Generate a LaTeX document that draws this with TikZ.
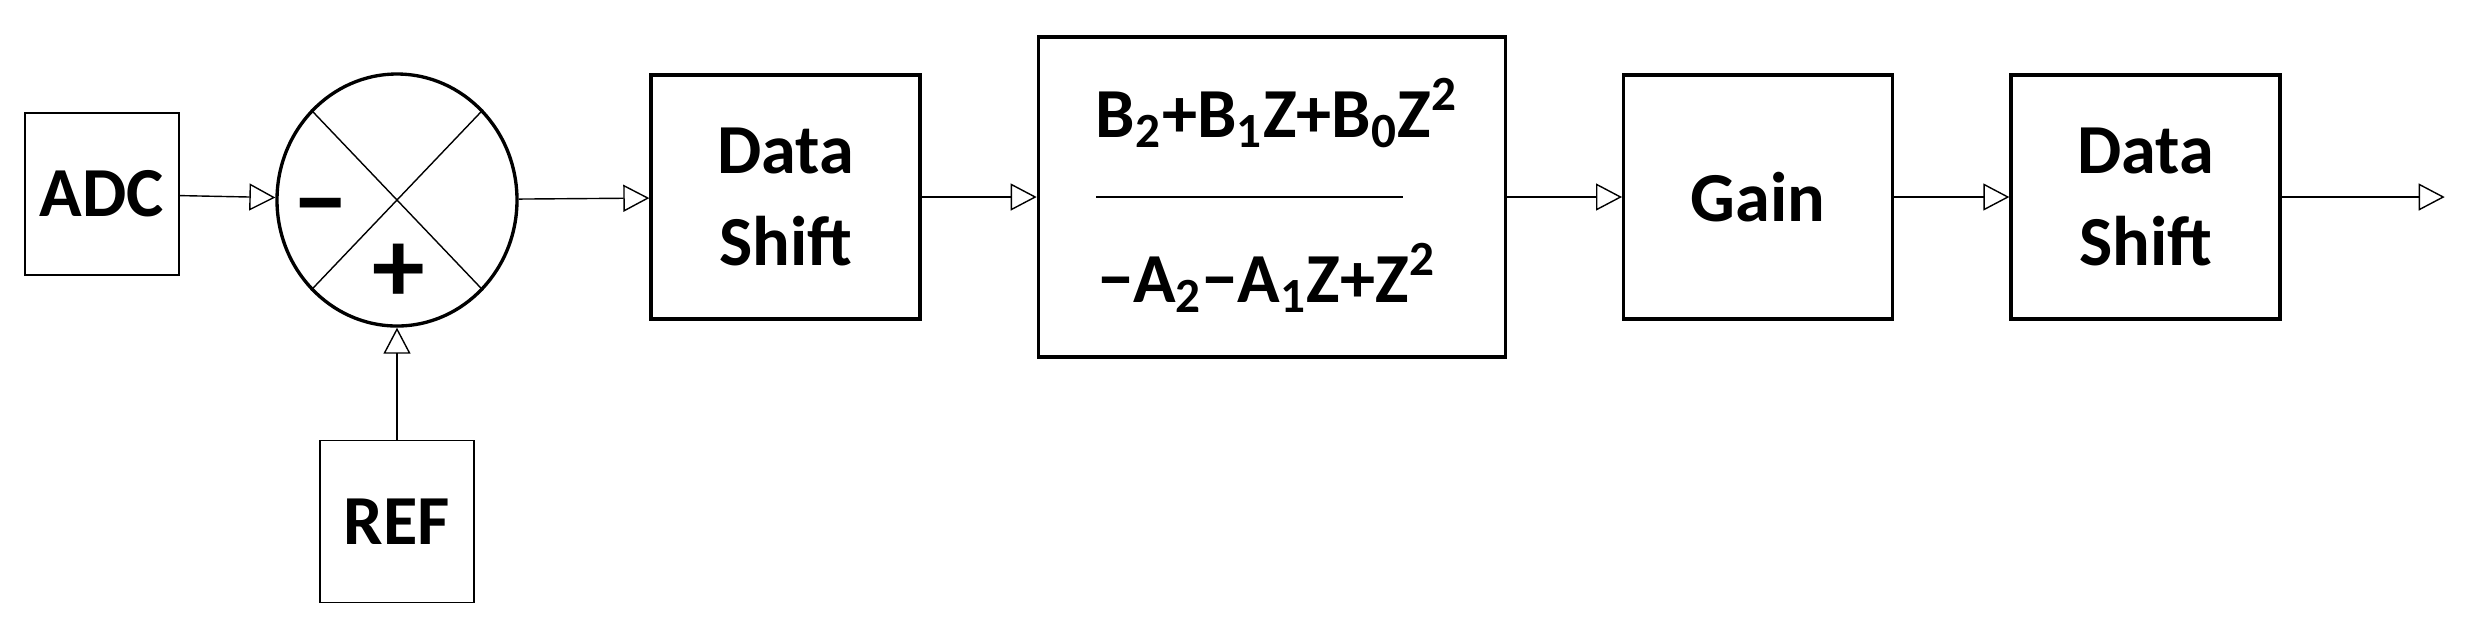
\documentclass[tikz,border=0pt]{standalone}
\usepackage{fontspec}
\setmainfont{Carlito}
\usetikzlibrary{shapes,arrows.meta,positioning,calc}

\begin{document}
\begin{tikzpicture}[
  blk/.style={draw, rectangle, line width=0.95pt, minimum width=2.69cm, minimum height=2.44cm, inner sep=0pt, align=center, font=\fontsize{20}{26.4}\selectfont\bfseries},
  src/.style={draw, rectangle, line width=0.5pt, minimum width=1.54cm, minimum height=1.62cm, inner sep=0pt, font=\fontsize{20}{24}\selectfont\bfseries},
  sig/.style={inner sep=0pt, font=\fontsize{30}{36}\selectfont\bfseries},
  frac/.style={anchor=base, inner sep=0pt, font=\fontsize{20}{24}\selectfont\bfseries},
  flow/.style={-{Triangle[open,length=0.26cm,width=0.27cm]}, line width=0.4pt}]
\useasboundingbox (0,0) rectangle (24.71,-6.31);
\node[src] (adc) at (1.02,-1.94) {ADC};
\node[draw, ellipse, line width=0.95pt, minimum width=2.4cm, minimum height=2.52cm, inner sep=0pt] (sum) at (3.97,-2.00) {};
\node[src, below=1.12cm of sum] (ref) {REF};
\node[sig] (minus) at ($(sum.center)+(-0.76,-0.17)$) {−};
\node[sig] (plus) at ($(sum.center)+(0.02,-0.73)$) {+};
\node[blk] (ds1) at (7.855,-1.97) {Data\\Shift};
\node[blk, minimum width=4.67cm, minimum height=3.2cm, right=1.15cm of ds1] (filt) {};
\node[blk, right=1.15cm of filt] (gain) {Gain};
\node[blk, right=1.15cm of gain] (ds2) {Data\\Shift};
\coordinate[right=1.63cm of ds2] (out);
\node[frac] (num) at (12.77,-1.37) {B\textsubscript{2}+B\textsubscript{1}Z+B\textsubscript{0}Z\textsuperscript{2}};
\node[frac] (den) at (12.67,-3.02) {−A\textsubscript{2}−A\textsubscript{1}Z+Z\textsuperscript{2}};

\draw[line width=0.4pt] (sum.north west) -- (sum.south east);
\draw[line width=0.4pt] (sum.north east) -- (sum.south west);
\draw[line width=0.4pt] ([xshift=-1.755cm]filt.center) -- ([xshift=1.315cm]filt.center);

\draw[flow] (adc) -- (sum);
\draw[flow] (ref) -- (sum);
\draw[flow] (sum) -- (ds1);
\draw[flow] (ds1) -- (filt);
\draw[flow] (filt) -- (gain);
\draw[flow] (gain) -- (ds2);
\draw[flow] (ds2) -- (out);
\end{tikzpicture}
\end{document}
